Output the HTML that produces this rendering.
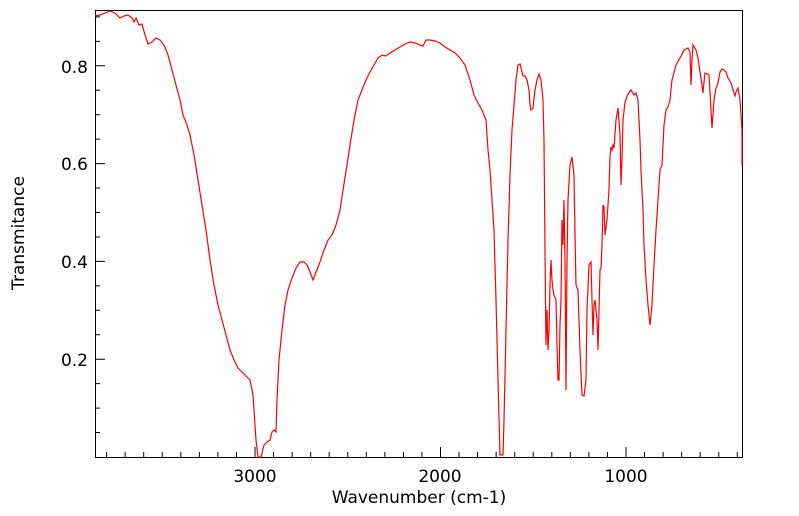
<!DOCTYPE html>
<html><head><style>body{margin:0;background:#fff}svg{display:block}text{font-family:"DejaVu Sans","Liberation Sans",sans-serif;fill:#000}</style></head>
<body>
<svg width="799" height="516" viewBox="0 0 799 516">
<rect x="95.5" y="10.5" width="647" height="447" fill="none" stroke="#000" stroke-width="1"/>
<path stroke="#000" stroke-width="1" fill="none" d="M106.6 457v-5M125.15 457v-5M143.7 457v-5M162.25 457v-5M180.8 457v-5M199.35 457v-5M217.9 457v-5M236.45 457v-5M255 457v-10M273.55 457v-5M292.1 457v-5M310.65 457v-5M329.2 457v-5M347.75 457v-5M366.3 457v-5M384.85 457v-5M403.4 457v-5M421.95 457v-5M440.5 457v-10M459.05 457v-5M477.6 457v-5M496.15 457v-5M514.7 457v-5M533.25 457v-5M551.8 457v-5M570.35 457v-5M588.9 457v-5M607.45 457v-5M626 457v-10M644.55 457v-5M663.1 457v-5M681.65 457v-5M700.2 457v-5M718.75 457v-5M737.3 457v-5
M95 432.55h5M95 408.1h5M95 383.65h5M95 359.2h10M95 334.75h5M95 310.3h5M95 285.85h5M95 261.4h10M95 236.95h5M95 212.5h5M95 188.05h5M95 163.6h10M95 139.15h5M95 114.7h5M95 90.25h5M95 65.8h10M95 41.35h5M95 16.9h5"/>
<polyline fill="none" stroke="#ff0000" stroke-width="1.2" points="95,16 100,15 105,13 110,11 115,13 120,18 124,16 128,15 132,18 134,22 136,18 139,25 142,24 145,35 148,44 152,42 156,38 160,40 164,45 168,55 172,70 176,85 180,100 183,115 187,125 190,135 194,155 198,180 202,205 206,230 210,260 214,285 218,305 222,320 226,335 230,350 234,360 238,368 242,372 246,376 250,380 253,395 256,440 258,457 261,457 264,445 267,442 270,440 272,432 274,430 276,432 277,400 279,360 282,330 285,305 288,290 292,278 296,268 300,262 304,262 307,265 310,272 313,280 316,272 320,262 324,250 328,240 332,235 336,225 340,210 343,190 347,165 350,145 354,120 358,100 362,90 366,80 370,72 374,65 378,58 382,55 386,56 390,53 395,50 400,47 405,44 410,42 415,43 420,45 423,46 426,40 430,40 435,41 440,43 445,47 450,50 455,53 460,58 465,65 470,80 474,95 478,103 482,110 486,120 488,150 490,170 492,200 494,230 496,300 498,380 500,455 503,455 504,420 506,330 508,240 510,175 512,130 514,105 516,80 518,65 520,64 522,72 523,76 525,76 527,80 529,90 530,105 531,110 533,108 535,90 537,80 539,74 541,80 543,100 544,140 545,250 546,345 547,310 548,350 549,330 550,285 551,260 552,280 553,290 554,295 556,300 557,345 558,380 559,380 560,325 561,300 562,220 563,245 564,200 565,260 566,390 567,260 568,200 570,165 572,157 574,175 575,235 576,285 578,290 580,350 582,395 584,396 586,380 587,310 589,265 591,262 592,300 593,335 594,305 595,300 597,320 598,350 599,310 600,270 601,268 602,245 603,205 604,207 605,235 607,220 609,190 610,157 611,147 612,150 613,145 614,148 616,120 618,108 620,135 621,185 622,160 623,120 625,102 628,94 631,90 634,95 636,93 638,100 640,140 641,170 643,210 644,245 646,280 648,305 650,325 652,305 654,265 656,230 658,200 660,170 662,165 664,125 666,110 668,107 670,100 672,80 676,65 680,58 684,50 688,48 690,52 691,85 692,60 693,45 696,50 698,58 700,72 702,85 703,93 704,82 705,73 707,74 708,74 709,75 710,92 712,128 714,100 716,88 718,83 720,72 722,69 724,70 726,72 728,78 731,83 733,90 735,96 736,92 738,88 740,100 742,130 742,165"/>
<g font-size="17" text-anchor="end">
<text x="88" y="73">0.8</text><text x="88" y="170">0.6</text><text x="88" y="268">0.4</text><text x="88" y="366">0.2</text>
</g>
<g font-size="17" text-anchor="middle">
<text x="255" y="482">3000</text><text x="440" y="482">2000</text><text x="626" y="482">1000</text>
<text x="419" y="503">Wavenumber (cm-1)</text>
<text transform="translate(24,233) rotate(-90)">Transmitance</text>
</g>
</svg>
</body></html>
